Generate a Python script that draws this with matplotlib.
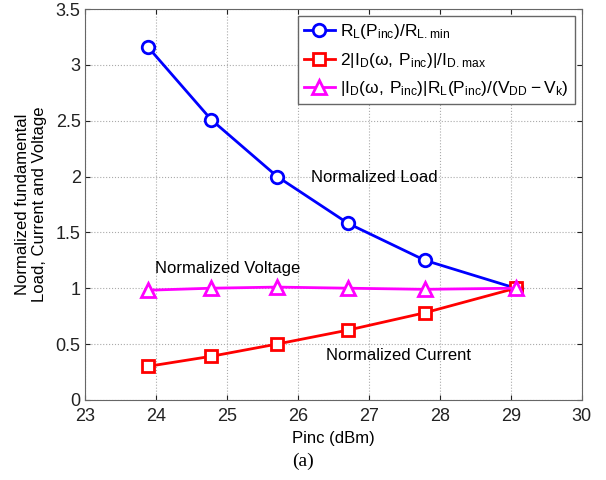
import matplotlib
matplotlib.use("Agg")
import matplotlib.pyplot as plt

plt.rcParams['font.family'] = ['Liberation Sans', 'DejaVu Sans']
plt.rcParams['mathtext.default'] = 'regular'

pinc = [23.89, 24.78, 25.71, 26.71, 27.79, 29.07]
load = [3.16, 2.51, 2.0, 1.58, 1.25, 1.0]
current = [0.30, 0.39, 0.50, 0.625, 0.78, 1.0]
voltage = [0.982, 1.0, 1.01, 1.0, 0.99, 1.0]

x_ticks = [23, 24, 25, 26, 27, 28, 29, 30]
y_ticks = [0, 0.5, 1, 1.5, 2, 2.5, 3, 3.5]
y_tick_labels = ['0', '0.5', '1', '1.5', '2', '2.5', '3', '3.5']

fig = plt.figure(figsize=(6.06, 4.8), dpi=100)
ax = fig.add_axes([0.140, 0.167, 0.820, 0.814])

ax.plot(pinc, load, '-o', color='#0000ff', lw=2, ms=9, mew=2, mfc='white',
        label=r'$R_L(P_{inc})/R_{L.min}$')
ax.plot(pinc, current, '-s', color='#ff0000', lw=2, ms=8, mew=2, mfc='white',
        label=r'$2|I_D(\omega,\, P_{inc})|/I_{D.max}$')
ax.plot(pinc, voltage, '-^', color='#ff00ff', lw=2, ms=10, mew=2, mfc='white',
        label=r'$|I_D(\omega,\, P_{inc})|R_L(P_{inc})/(V_{DD}-V_k)$')

ax.set_xlim(23, 30)
ax.set_ylim(0, 3.5)
ax.set_xticks(x_ticks)
ax.set_yticks(y_ticks)
ax.set_yticklabels(y_tick_labels)
ax.tick_params(direction='in', top=True, right=True, labelsize=13, colors='#222222')
ax.tick_params(axis='x', pad=6)
ax.tick_params(axis='y', pad=3)
for s in ax.spines.values():
    s.set_color('#666666')
ax.grid(True, linestyle=':', color='#aaaaaa', lw=0.8)

ax.text(26.18, 1.99, 'Normalized Load', fontsize=12, va='center')
ax.text(23.99, 1.18, 'Normalized Voltage', fontsize=12, va='center')
ax.text(26.40, 0.40, 'Normalized Current', fontsize=12, va='center')

ax.set_xlabel('Pinc (dBm)', fontsize=12, labelpad=4)
ax.set_ylabel('Normalized fundamental\nLoad, Current and Voltage', fontsize=12,
              multialignment='center', labelpad=6)

leg = ax.legend(loc='upper right', fontsize=12.5, handlelength=1.8, borderaxespad=0.4,
                fancybox=False, framealpha=1, labelspacing=0.55, handletextpad=0.3,
                borderpad=0.35)
leg.get_frame().set_edgecolor('#666666')

fig.text(0.5, 0.03, '(a)', fontsize=14, family='Liberation Serif', ha='center')

fig.savefig('out.png', dpi=100)
